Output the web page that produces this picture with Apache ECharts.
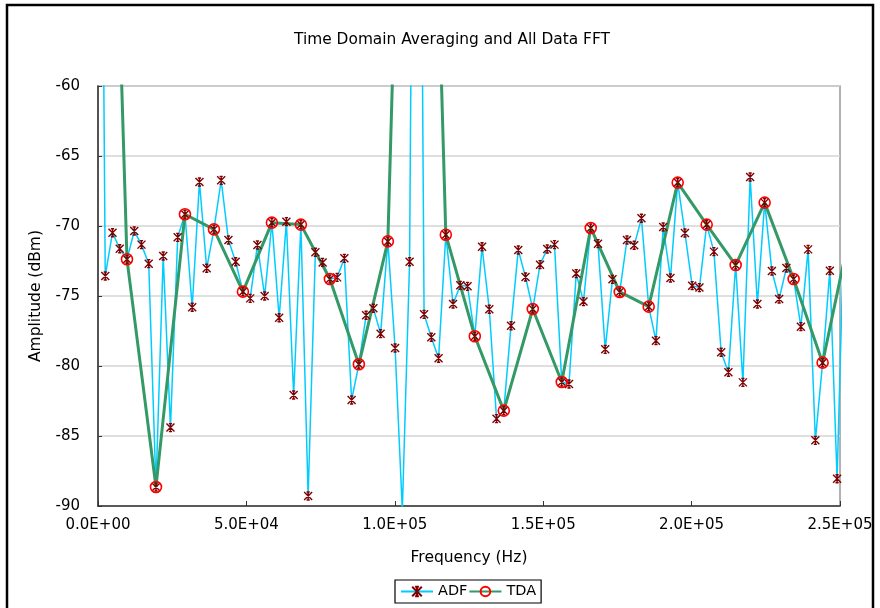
<!DOCTYPE html>
<html>
<head>
<meta charset="utf-8">
<script src="https://cdn.jsdelivr.net/npm/echarts@6/dist/echarts.min.js"></script>
<style>
html,body{margin:0;padding:0;background:#fff;}
#main{width:880px;height:608px;}
</style>
</head>
<body>
<div id="main"></div>
<script>
// FFT bin spacing (Hz)
var adfStep = 2441.40625;
var tdaStep = 9765.625;

// ADF amplitudes (dBm), bins 0..103
var adfValues = [
  -4, -73.57, -70.48, -71.62, -72.38, -70.36, -71.33, -72.69, -88.64, -72.14,
  -84.4, -70.81, -69.16, -75.8, -66.86, -73.02, -70.24, -66.74, -71.0, -72.55,
  -74.69, -75.17, -71.36, -75.0, -69.76, -76.55, -69.69, -82.07, -69.9, -89.29,
  -71.88, -72.6, -73.79, -73.67, -72.31, -82.43, -79.88, -76.38, -75.88, -77.69,
  -71.1, -78.71, -90.3, -72.55, 2, -76.31, -77.95, -79.45, -70.62, -75.57,
  -74.24, -74.31, -77.88, -71.48, -75.95, -83.76, -83.19, -77.12, -71.71, -73.64,
  -75.93, -72.76, -71.64, -71.33, -81.14, -81.29, -73.4, -75.4, -70.14, -71.26,
  -78.81, -73.81, -74.71, -71.0, -71.38, -69.45, -75.76, -78.19, -70.07, -73.71,
  -66.9, -70.5, -74.26, -74.4, -69.9, -71.83, -79.02, -80.45, -72.79, -81.17,
  -66.5, -75.57, -68.33, -73.21, -75.21, -73.0, -73.79, -77.19, -71.67, -85.31,
  -79.76, -73.19, -88.05, -69
];

// TDA amplitudes (dBm), bins 0..26
var tdaValues = [
  -4, -72.38, -88.64, -69.16, -70.24, -74.69, -69.76, -69.9, -73.79, -79.88,
  -71.1, 2, -70.62, -77.88, -83.19, -75.93, -81.14, -70.14, -74.71, -75.76,
  -66.9, -69.9, -72.79, -68.33, -73.79, -79.76, -69.9
];

var xTicks = {min: 0, max: 250000, interval: 50000};
var yTicks = {min: -90, max: -60, interval: 5};

function pairs(vals, step) {
  return vals.map(function (v, i) { return [i * step, v]; });
}
function sci(v) {
  var s = v.toExponential(1).toUpperCase();
  var m = s.match(/^(-?[\d.]+)E([+-])(\d+)$/);
  var e = m[3].length < 2 ? '0' + m[3] : m[3];
  return m[1] + 'E' + m[2] + e;
}

var FONT = 'DejaVu Sans';
var chart = echarts.init(document.getElementById('main'), null, {renderer: 'canvas'});
chart.setOption({
  animation: false,
  backgroundColor: '#fff',
  textStyle: {fontFamily: FONT, color: '#000'},
  title: {
    text: 'Time Domain Averaging and All Data FFT',
    left: 447, top: 27, textAlign: 'center',
    textStyle: {fontFamily: FONT, fontSize: 15.4, fontWeight: 'normal', color: '#000'}
  },
  graphic: [{
    type: 'rect', shape: {x: 7, y: 5, width: 866, height: 700},
    style: {fill: 'none', stroke: '#000', lineWidth: 2.5}, silent: true
  }],
  legend: {
    data: ['ADF', 'TDA'],
    left: 395, top: 580,
    padding: [4, 5, 4, 5],
    itemGap: 1, itemWidth: 32, itemHeight: 12,
    borderColor: '#000', borderWidth: 1.2,
    textStyle: {fontFamily: FONT, fontSize: 14.5, color: '#000'}
  },
  grid: {
    left: 98, right: 40, top: 86, bottom: 102,
    show: true, borderColor: '#999', borderWidth: 1.5, backgroundColor: '#fff'
  },
  xAxis: {
    type: 'value', min: xTicks.min, max: xTicks.max, interval: xTicks.interval,
    name: 'Frequency (Hz)', nameLocation: 'middle', nameGap: 44,
    nameTextStyle: {fontFamily: FONT, fontSize: 15.5, color: '#000'},
    axisLine: {lineStyle: {color: '#333', width: 1.5}},
    axisTick: {inside: true, length: 5, lineStyle: {color: '#333'}},
    axisLabel: {fontFamily: FONT, fontSize: 15, color: '#000', margin: 12, formatter: sci},
    splitLine: {show: false}
  },
  yAxis: {
    type: 'value', min: yTicks.min, max: yTicks.max, interval: yTicks.interval,
    name: 'Amplitude (dBm)', nameLocation: 'middle', nameGap: 54, nameRotate: 90,
    nameTextStyle: {fontFamily: FONT, fontSize: 15.5, color: '#000'},
    axisLine: {show: true, lineStyle: {color: '#333', width: 1.5}},
    axisTick: {show: true, inside: true, length: 4, lineStyle: {color: '#333'}},
    axisLabel: {fontFamily: FONT, fontSize: 15, color: '#000', margin: 18},
    splitLine: {show: true, lineStyle: {color: '#d4d4d4', width: 1.5}}
  },
  series: [{
    name: 'ADF', type: 'line', data: pairs(adfValues, adfStep),
    clip: true,
    lineStyle: {color: '#00CCFF', width: 1.5},
    symbol: 'path://M0,0L10,10M10,0L0,10M5,0L5,10M3,0L7,0M3,10L7,10',
    symbolSize: 8, showAllSymbol: true,
    itemStyle: {color: '#800000', borderColor: '#800000', borderWidth: 1.4}
  }, {
    name: 'TDA', type: 'line', data: pairs(tdaValues, tdaStep),
    clip: true,
    lineStyle: {color: '#339966', width: 3},
    symbol: 'circle', symbolSize: 11, showAllSymbol: true,
    itemStyle: {color: 'rgba(0,0,0,0)', borderColor: '#FF0000', borderWidth: 1.6}
  }]
});
</script>
</body>
</html>
